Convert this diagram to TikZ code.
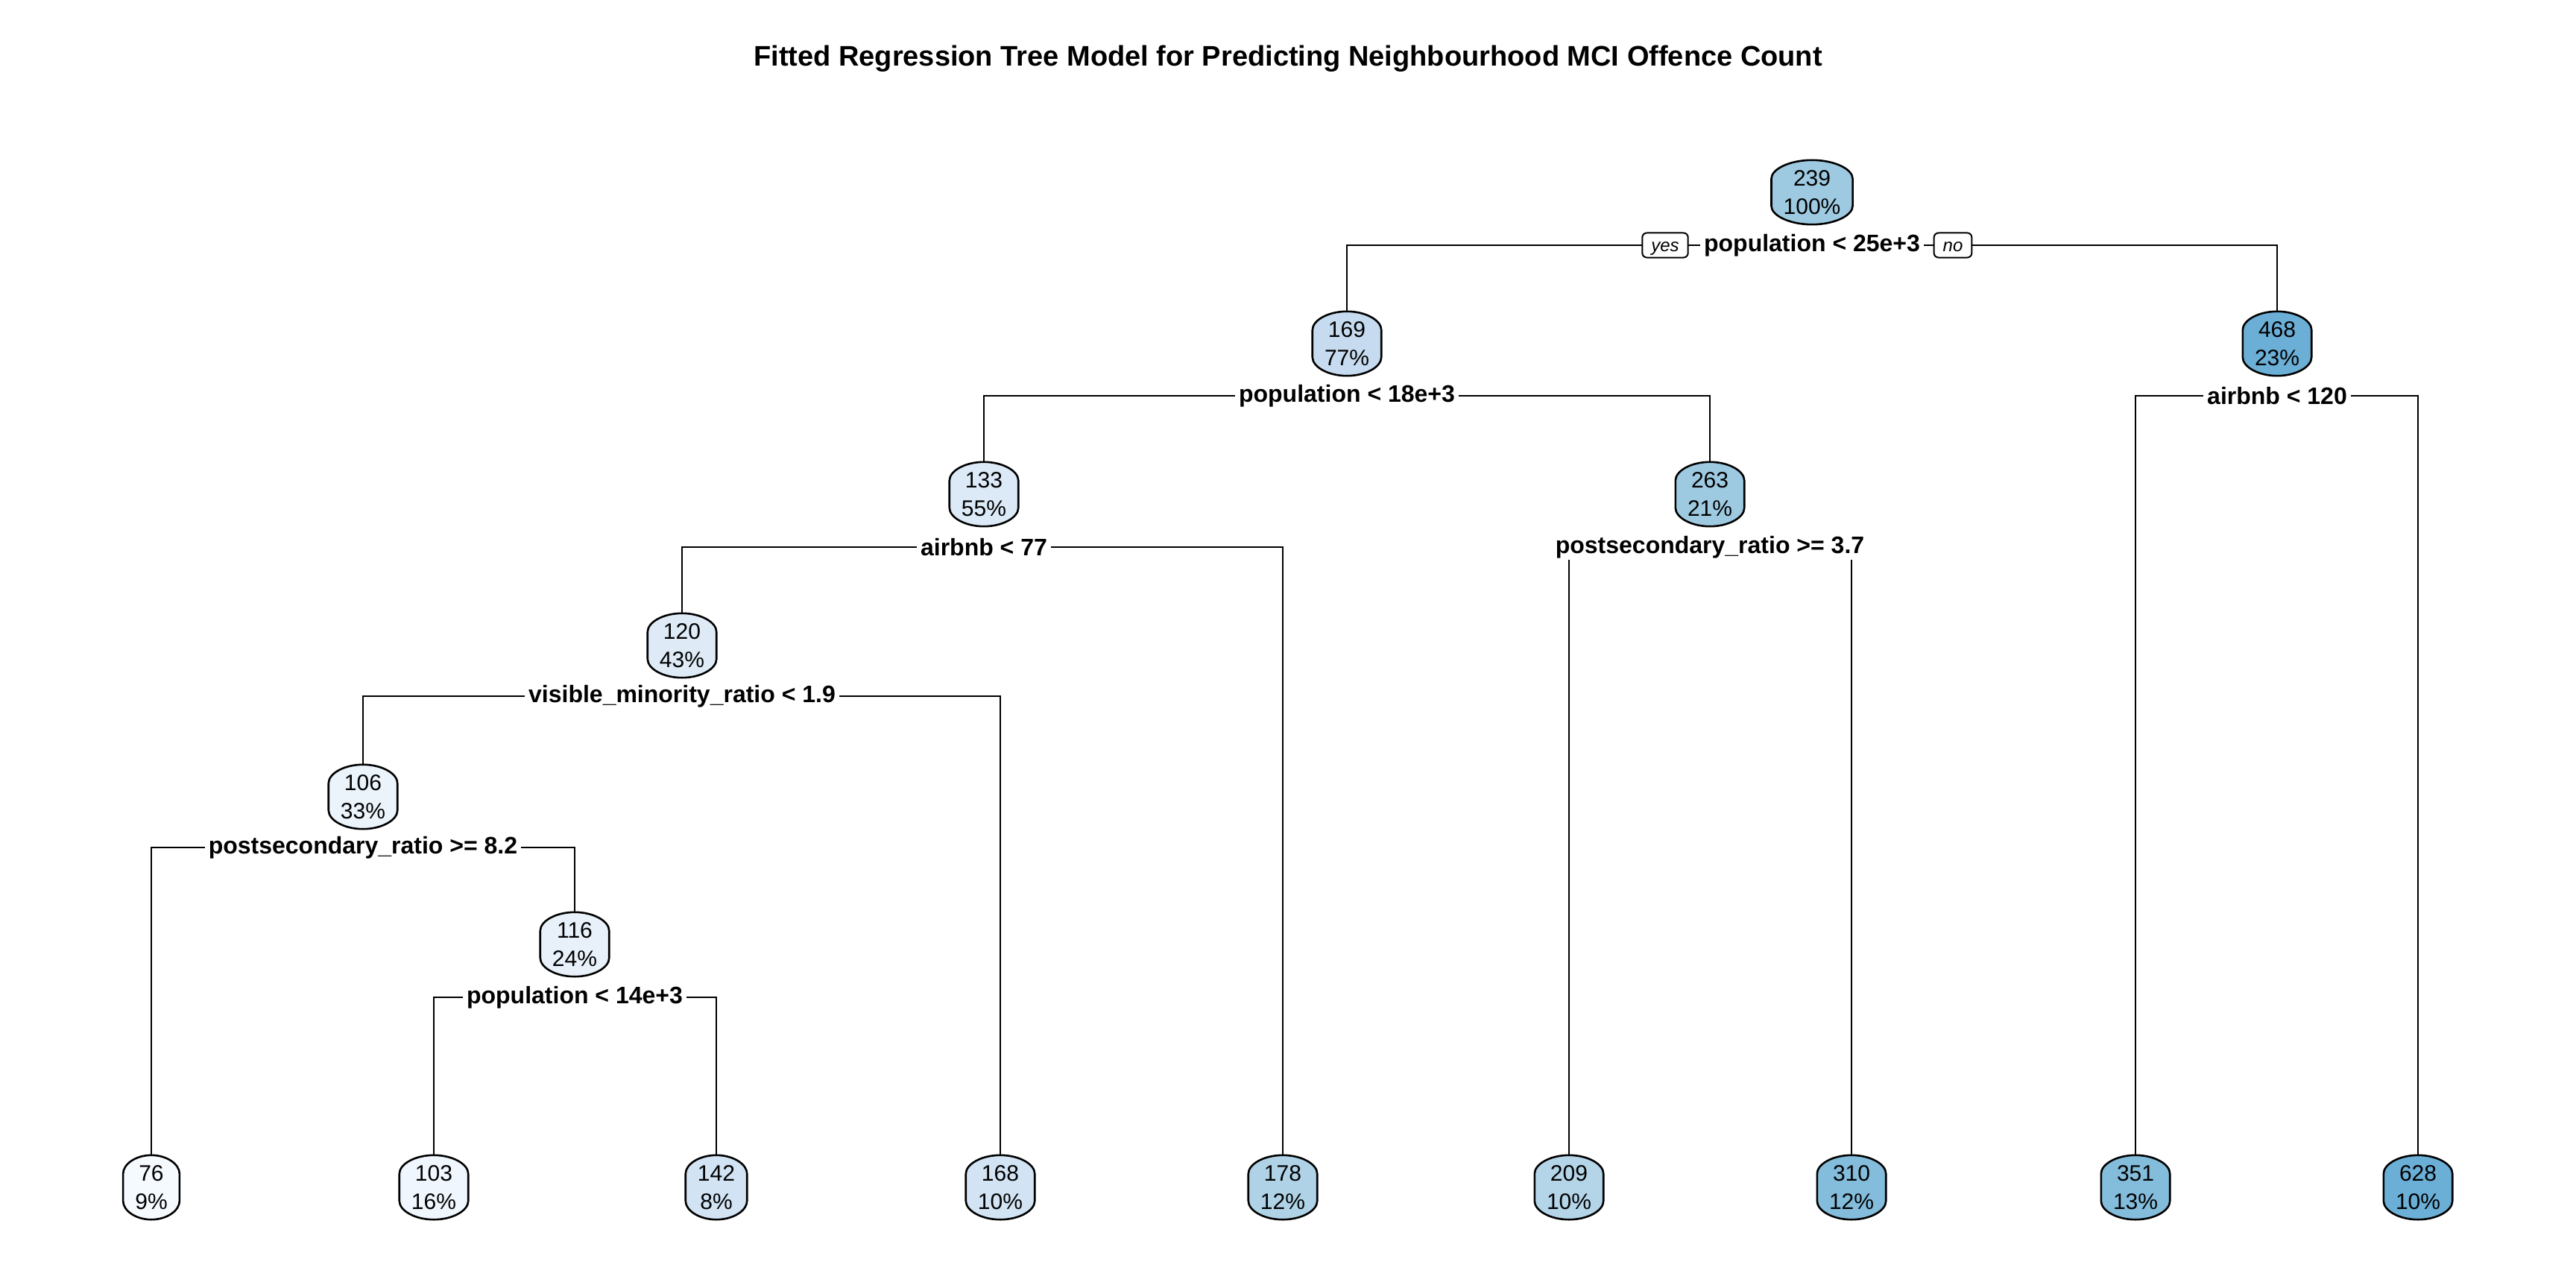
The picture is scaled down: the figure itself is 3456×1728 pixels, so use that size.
\documentclass[tikz,border=0pt]{standalone}
\usepackage{fontspec}
\setmainfont{Liberation Sans}
\usetikzlibrary{backgrounds,calc}
\definecolor{c76}{RGB}{245,250,255}
\definecolor{c103}{RGB}{240,246,253}
\definecolor{c106}{RGB}{235,243,251}
\definecolor{c116}{RGB}{232,241,250}
\definecolor{c120}{RGB}{222,235,247}
\definecolor{c133}{RGB}{220,234,247}
\definecolor{c142}{RGB}{210,227,243}
\definecolor{c168}{RGB}{210,227,243}
\definecolor{c169}{RGB}{198,219,239}
\definecolor{c178}{RGB}{176,210,230}
\definecolor{c209}{RGB}{180,212,232}
\definecolor{c239}{RGB}{158,202,225}
\definecolor{c263}{RGB}{158,202,225}
\definecolor{c310}{RGB}{132,188,219}
\definecolor{c351}{RGB}{132,188,219}
\definecolor{c468}{RGB}{107,174,214}
\definecolor{c628}{RGB}{107,174,214}
\tikzset{
  ntext/.style={align=center, inner xsep=16pt, inner ysep=0pt, minimum height=86pt,
    font=\fontsize{30}{38}\selectfont},
  nshape/.style={draw=black, line width=2.6pt},
  edge/.style={draw=black, line width=2.2pt},
  split/.style={fill=white, inner xsep=5pt, inner ysep=2pt,
    font=\bfseries\fontsize{32}{36}\selectfont},
  yn/.style={draw=black, fill=white, line width=2pt, rounded corners=6pt,
    inner xsep=12pt, inner ysep=0pt, minimum height=33pt,
    text height=22pt, text depth=5pt,
    font=\itshape\fontsize{24}{28}\selectfont},
  titlestyle/.style={font=\bfseries\fontsize{38}{42}\selectfont}
}
\newcommand\tn[6]{%
  \node[ntext] (#1) at (#2,#3) {#4\\#5};
  \begin{pgfonlayer}{background}
    \path[nshape, fill=#6] let \p1=(#1.north west), \p2=(#1.south east),
      \n1={(\x1+\x2)/2}, \n2={(\x2-\x1)/2} in
      (\x1,\y1-25pt) .. controls (\x1,\y1-12pt) and ({(\n1-0.55*\n2)*1pt},\y1) .. ({\n1*1pt},\y1)
      .. controls ({(\n1+0.55*\n2)*1pt},\y1) and (\x2,\y1-12pt) .. (\x2,\y1-25pt)
      -- (\x2,\y2+25pt)
      .. controls (\x2,\y2+12pt) and ({(\n1+0.55*\n2)*1pt},\y2) .. ({\n1*1pt},\y2)
      .. controls ({(\n1-0.55*\n2)*1pt},\y2) and (\x1,\y2+12pt) .. (\x1,\y2+25pt)
      -- cycle;
  \end{pgfonlayer}}
\begin{document}
\begin{tikzpicture}[x=1pt,y=-1pt]
\begin{pgfonlayer}{background}
\fill[white] (0,0) rectangle (3456,1728);
\end{pgfonlayer}
\useasboundingbox (0,0) rectangle (3456,1728);

\node[titlestyle] (title) at (1728,79) {Fitted Regression Tree Model for Predicting Neighbourhood MCI Offence Count};

% inner nodes
\tn{n239}{2431}{258}{239}{100\%}{c239}
\tn{n169}{1807}{461}{169}{77\%}{c169}
\tn{n468}{3055}{461}{468}{23\%}{c468}
\tn{n133}{1320}{663}{133}{55\%}{c133}
\tn{n263}{2294}{663}{263}{21\%}{c263}
\tn{n120}{915}{866}{120}{43\%}{c120}
\tn{n106}{487}{1069}{106}{33\%}{c106}
\tn{n116}{771}{1267}{116}{24\%}{c116}
% leaves
\tn{n76}{203}{1593}{76}{9\%}{c76}
\tn{n103}{582}{1593}{103}{16\%}{c103}
\tn{n142}{961}{1593}{142}{8\%}{c142}
\tn{n168}{1342}{1593}{168}{10\%}{c168}
\tn{n178}{1721}{1593}{178}{12\%}{c178}
\tn{n209}{2105}{1593}{209}{10\%}{c209}
\tn{n310}{2484}{1593}{310}{12\%}{c310}
\tn{n351}{2865}{1593}{351}{13\%}{c351}
\tn{n628}{3244}{1593}{628}{10\%}{c628}

% split points
\coordinate (s1) at (2431,329);
\coordinate (s2) at (1807,531);
\coordinate (s3) at (3055,531);
\coordinate (s4) at (1320,734);
\coordinate (s5) at (2294,734);
\coordinate (s6) at (915,934);
\coordinate (s7) at (487,1137);
\coordinate (s8) at (771,1338);

% connectors
\draw[edge] (s1) -| (n169);
\draw[edge] (s1) -| (n468);
\draw[edge] (s2) -| (n133);
\draw[edge] (s2) -| (n263);
\draw[edge] (s3) -| (n351);
\draw[edge] (s3) -| (n628);
\draw[edge] (s4) -| (n120);
\draw[edge] (s4) -| (n178);
\draw[edge] (s5) -| (n209);
\draw[edge] (s5) -| (n310);
\draw[edge] (s6) -| (n106);
\draw[edge] (s6) -| (n168);
\draw[edge] (s7) -| (n76);
\draw[edge] (s7) -| (n116);
\draw[edge] (s8) -| (n103);
\draw[edge] (s8) -| (n142);

% split labels
\node[split] (L1) at (s1) {population < 25e+3};
\node[split] (L2) at (s2) {population < 18e+3};
\node[split] (L3) at (s3) {airbnb < 120};
\node[split] (L4) at (s4) {airbnb < 77};
\node[split] (L5) at (s5) {postsecondary\_ratio >= 3.7};
\node[split] (L6) at (s6) {visible\_minority\_ratio < 1.9};
\node[split] (L7) at (s7) {postsecondary\_ratio >= 8.2};
\node[split] (L8) at (s8) {population < 14e+3};

\node[yn] (yes) at (2234,329) {yes};
\node[yn] (no) at (2620,329) {no};
\end{tikzpicture}
\end{document}
